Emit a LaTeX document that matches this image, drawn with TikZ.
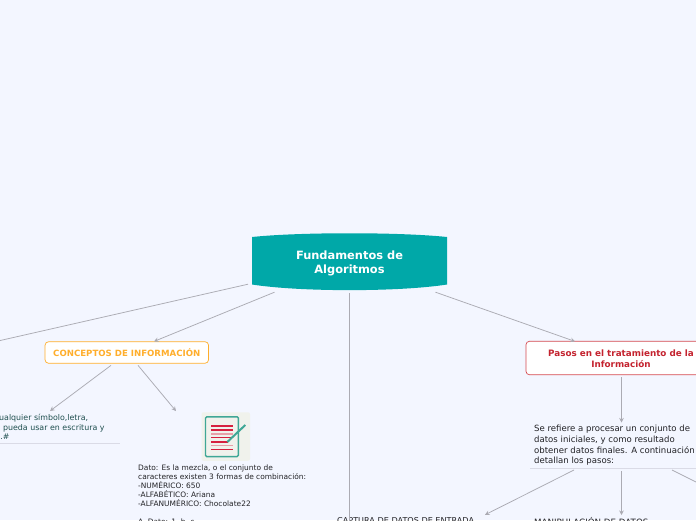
\documentclass[tikz,border=0pt]{standalone}
\usepackage{fontspec}
\setmainfont{DejaVu Sans}
\usetikzlibrary{arrows.meta}
\definecolor{bgc}{HTML}{F3F6FF}
\definecolor{tealc}{HTML}{00A8A8}
\definecolor{lnc}{HTML}{ABABB3}
\definecolor{org}{HTML}{FFAE2B}
\definecolor{redc}{HTML}{C4232F}
\definecolor{redb}{HTML}{D5494F}
\definecolor{redi}{HTML}{D6213F}
\definecolor{redp}{HTML}{E8A0A8}
\definecolor{ulc}{HTML}{DADBE6}
\definecolor{txtc}{HTML}{222226}
\definecolor{grn}{HTML}{1F4F4F}
\definecolor{icg}{HTML}{3FA796}
\definecolor{icb}{HTML}{F0F2EC}
\tikzset{
  conn/.style={draw=lnc,line width=0.75pt,-{Stealth[length=4.5pt,width=4.5pt]}},
  plainconn/.style={draw=lnc,line width=0.75pt},
  boxnode/.style={draw,fill=white,rounded corners=3.5pt,line width=0.7pt,font=\bfseries,align=center,inner sep=0pt},
  textnode/.style={anchor=north west,inner sep=0pt,align=left,text=txtc},
  ul/.style={draw=ulc,line width=0.8pt},
  rootnode/.style={text=white,font=\fontsize{11.4}{14}\selectfont\bfseries,align=center,inner sep=0pt,minimum width=195pt,minimum height=57pt},
  iconbox/.style={fill=icb,rounded corners=2pt,inner sep=0pt,minimum width=48.5pt,minimum height=48.5pt}
}
\begin{document}
\begin{tikzpicture}[x=1pt,y=-1pt]
\useasboundingbox (0,0) rectangle (696,520);
\fill[bgc] (0,0) rectangle (696,520);
% root
\fill[tealc] (252,237) .. controls (300,232) and (399,232) .. (447,237) -- (447,284.5) .. controls (399,292) and (300,292) .. (252,284.5) -- cycle;
\node[rootnode] (root) at (349.5,263) {Fundamentos de\hspace{7pt}\\ Algoritmos};
% boxes
\node[boxnode,draw=org,text=org,minimum width=163.5pt,minimum height=21.5pt,font=\fontsize{8.6}{10}\selectfont\bfseries] (conc) at (126.8,352.5) {CONCEPTOS DE INFORMACIÓN};
\node[boxnode,draw=redb,text=redc,minimum width=190pt,minimum height=33.5pt,font=\fontsize{8.8}{11}\selectfont\bfseries] (pasos) at (621,358) {\rule{0pt}{8.7pt}Pasos en el tratamiento de la\\ Información};
% left text
\node[textnode,text=grn,font=\fontsize{7.9}{9.6}\selectfont] (ltext) at (-26,414) {\hspace{9pt}Es cualquier símbolo,letra,\\ que se pueda usar en escritura y\\ \hspace{22pt}s.\#};
\draw[ul] (-2,443.5) -- (120,443.5);
% icon
\node[iconbox] (icon) at (225.8,436.5) {};
\draw[icg,line width=1.4pt,rounded corners=1.2pt] (205.5,416.8) rectangle (238.3,456.6);
\fill[redi] (211,425) rectangle (233,427);
\fill[redi] (211,429) rectangle (233,431);
\fill[redp] (211,433) rectangle (233,435);
\fill[redi] (211,437) rectangle (233,438);
\fill[redi] (211,441) rectangle (228,443);
\fill[redp] (211,445) rectangle (233,446);
\fill[redi] (211,449) rectangle (233,450);
\draw[icg,line width=2pt] (227.3,442) -- (245.3,425);
% data text
\node[textnode,font=\fontsize{7.45}{9}\selectfont] (dato) at (138,464.4) {Dato: Es la mezcla, o el conjunto de\\ caracteres existen 3 formas de combinación:\\ -NUMÉRICO: 650\\ -ALFABÉTICO: Ariana\\ -ALFANUMÉRICO: Chocolate22\\[9pt] A. Dato: 1, b, c};
% process text
\node[textnode,font=\fontsize{8.55}{10.7}\selectfont] (proc) at (534,425) {Se refiere a procesar un conjunto de\\ datos iniciales, y como resultado\\ obtener datos finales. A continuación\\ detallan los pasos:};
\coordinate (procul) at (621.5,468.5);
\draw[ul] (530,468.5) -- (696,468.5);
% cut-off titles
\node[textnode,font=\fontsize{8.1}{9}\selectfont] (cap) at (337,517.3) {CAPTURA DE DATOS DE ENTRADA};
\node[textnode,font=\fontsize{8.7}{9}\selectfont] (man) at (534,517) {MANIPULACIÓN DE DATOS};
% free ends
\coordinate (offL) at (-2,341);
\coordinate (offB) at (349,521);
\coordinate (offR) at (698,483);
% connectors
\draw[plainconn] ([shift={(-101.5,-7.5)}]root.south) -- (offL);
\draw[conn] ([shift={(-75,0.5)}]root.south) -- ([shift={(27.2,0)}]conc.north);
\draw[plainconn] ([shift={(-0.5,1.5)}]root.south) -- (offB);
\draw[conn] ([shift={(86,0.5)}]root.south) -- ([shift={(-46,0.5)}]pasos.north);
\draw[conn] ([shift={(-15.8,1.75)}]conc.south) -- ([shift={(76,-3)}]ltext.north west);
\draw[conn] ([shift={(11.2,1.75)}]conc.south) -- ([shift={(-49.8,-1)}]icon.north);
\draw[conn] ([shift={(0.5,2.2)}]pasos.south) -- ([shift={(0,-46)}]procul);
\draw[conn] ([shift={(-47.5,1.5)}]procul) -- ([shift={(148,-2.5)}]cap.north west);
\draw[conn] ([shift={(0,2.5)}]procul) -- ([shift={(87.5,-2)}]man.north west);
\draw[plainconn] ([shift={(50.5,1.5)}]procul) -- (offR);
\end{tikzpicture}
\end{document}
